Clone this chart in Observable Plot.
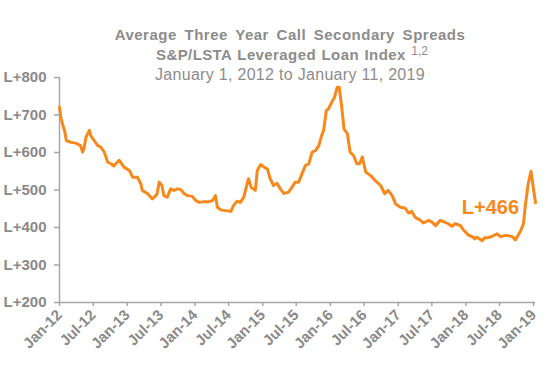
<!DOCTYPE html>
<html>
<head>
<meta charset="utf-8">
<script src="https://cdn.jsdelivr.net/npm/d3@7"></script>
<script src="https://cdn.jsdelivr.net/npm/@observablehq/plot@0.6"></script>
<style>
  html, body { margin: 0; padding: 0; background: #fff; }
  #wrap { position: relative; width: 555px; height: 382px; font-family: "Liberation Sans", Arial, sans-serif; }
  .t { position: absolute; left: 0; width: 580px; text-align: center; color: #8c8c8c; white-space: nowrap; }
  #t1 { top: 27px; font-size: 15px; line-height: 15px; font-weight: bold; letter-spacing: 0.5px; word-spacing: 3px; }
  #t2 { top: 47px; left: 2px; font-size: 15px; line-height: 15px; font-weight: bold; letter-spacing: 0.4px; word-spacing: 1px; }
  #t2 sup { font-size: 12px; font-weight: normal; letter-spacing: 0; vertical-align: 5px; line-height: 0; }
  #t3 { top: 67px; font-size: 16px; line-height: 16px; letter-spacing: 0.3px; }
  #chart { position: absolute; left: 0; top: 0; }
</style>
</head>
<body>
<div id="wrap">
  <div id="chart"></div>
  <div class="t" id="t1">Average Three Year Call Secondary Spreads</div>
  <div class="t" id="t2">S&amp;P/LSTA Leveraged Loan Index <sup>1,2</sup></div>
  <div class="t" id="t3">January 1, 2012 to January 11, 2019</div>
</div>
<script>
// Dates as decimal years
const years = [
  2012.00, 2012.02, 2012.05, 2012.08, 2012.10, 2012.17, 2012.24, 2012.29, 2012.31, 2012.34,
  2012.36, 2012.39, 2012.44, 2012.46, 2012.51, 2012.56, 2012.61, 2012.66, 2012.71, 2012.76,
  2012.80, 2012.85, 2012.88, 2012.90, 2012.95, 2013.03, 2013.08, 2013.15, 2013.20, 2013.22,
  2013.30, 2013.37, 2013.42, 2013.44, 2013.47, 2013.51, 2013.54, 2013.59, 2013.64, 2013.69,
  2013.74, 2013.79, 2013.84, 2013.89, 2013.96, 2014.01, 2014.06, 2014.13, 2014.21, 2014.26,
  2014.30, 2014.33, 2014.38, 2014.45, 2014.53, 2014.57, 2014.62, 2014.67, 2014.72, 2014.77,
  2014.79, 2014.83, 2014.89, 2014.92, 2014.97, 2015.02, 2015.07, 2015.11, 2015.16, 2015.21,
  2015.26, 2015.31, 2015.38, 2015.43, 2015.48, 2015.53, 2015.58, 2015.63, 2015.68, 2015.73,
  2015.78, 2015.83, 2015.87, 2015.90, 2015.94, 2015.97, 2016.02, 2016.06, 2016.10, 2016.13,
  2016.17, 2016.20, 2016.25, 2016.29, 2016.34, 2016.39, 2016.43, 2016.47, 2016.52, 2016.59,
  2016.66, 2016.74, 2016.80, 2016.85, 2016.91, 2016.96, 2017.03, 2017.10, 2017.15, 2017.20,
  2017.25, 2017.33, 2017.37, 2017.45, 2017.50, 2017.55, 2017.62, 2017.69, 2017.74, 2017.79,
  2017.84, 2017.92, 2017.96, 2018.04, 2018.09, 2018.13, 2018.16, 2018.24, 2018.28, 2018.33,
  2018.38, 2018.46, 2018.51, 2018.60, 2018.68, 2018.73, 2018.77, 2018.81, 2018.85, 2018.88,
  2018.92, 2018.96, 2019.027
];
// Spread over LIBOR (bps)
const spreads = [
  721, 694, 672, 654, 632, 627, 625, 620, 619, 601,
  610, 641, 659, 645, 632, 619, 614, 601, 574, 570,
  564, 574, 579, 574, 561, 552, 534, 534, 516, 499,
  490, 476, 485, 490, 521, 512, 485, 481, 503, 499,
  503, 501, 490, 485, 483, 472, 467, 469, 469, 472,
  485, 454, 447, 445, 443, 459, 470, 467, 481, 517,
  530, 507, 499, 552, 568, 561, 556, 530, 512, 518,
  503, 491, 494, 507, 521, 521, 543, 565, 570, 601,
  605, 619, 645, 659, 712, 716, 734, 747, 774, 774,
  716, 663, 650, 601, 592, 570, 570, 588, 548, 539,
  525, 512, 490, 499, 485, 463, 454, 452, 439, 443,
  427, 419, 412, 419, 414, 405, 419, 414, 410, 403,
  410, 405, 394, 379, 376, 370, 374, 365, 373, 373,
  376, 383, 376, 379, 376, 367, 379, 392, 410, 463,
  517, 550, 466
];
const yTicks = [200, 300, 400, 500, 600, 700, 800];
const xTickLabels = ["Jan-12","Jul-12","Jan-13","Jul-13","Jan-14","Jul-14","Jan-15","Jul-15",
                     "Jan-16","Jul-16","Jan-17","Jul-17","Jan-18","Jul-18","Jan-19"];
const lastLabel = "L+466";
const labelAt = {year: 2018.785, spread: 454};

const toDate = (y) => {
  const yr = Math.floor(y);
  const a = Date.UTC(yr, 0, 1), b = Date.UTC(yr + 1, 0, 1);
  return new Date(a + (y - yr) * (b - a));
};
const parseTick = d3.utcParse("%b-%y");
const xTicks = xTickLabels.map(parseTick);
const data = years.map((y, i) => ({date: toDate(y), value: spreads[i]}));

const orange = "#f7891c";
const grey = "#8a8a8a";
const axisGrey = "#a6a6a6";
const x0 = new Date(Date.UTC(2012, 0, 1));
const x1 = new Date(Date.UTC(2019, 0, 11));

const chart = Plot.plot({
  width: 555,
  height: 382,
  marginTop: 77,
  marginBottom: 80,
  marginLeft: 59,
  marginRight: 20,
  style: {fontFamily: "'Liberation Sans', Arial, sans-serif", background: "transparent", overflow: "visible"},
  x: {type: "utc", domain: [x0, x1]},
  y: {domain: [200, 800]},
  marks: [
    Plot.axisY({ticks: yTicks, tickFormat: d => "L+" + d, tickSize: 5, tickPadding: 8,
                fontSize: 15, fontWeight: "bold", fill: grey, stroke: axisGrey, strokeWidth: 1.5, label: null}),
    Plot.axisX({ticks: xTicks, tickFormat: d3.utcFormat("%b-%y"), tickRotate: -45, tickSize: 4, tickPadding: 6,
                fontSize: 15, fontWeight: "bold", fill: grey, stroke: axisGrey, strokeWidth: 1.5, label: null}),
    Plot.ruleX([x0], {stroke: axisGrey, strokeWidth: 1.5}),
    Plot.ruleY([200], {stroke: axisGrey, strokeWidth: 1.5}),
    Plot.lineY(data, {x: "date", y: "value", stroke: orange, strokeWidth: 3, strokeLinejoin: "round", curve: "linear"}),
    Plot.text([labelAt], {x: d => toDate(d.year), y: "spread", text: () => lastLabel, textAnchor: "end",
               fontSize: 20, fontWeight: "bold", fill: orange})
  ]
});
document.getElementById("chart").appendChild(chart);
</script>
</body>
</html>
